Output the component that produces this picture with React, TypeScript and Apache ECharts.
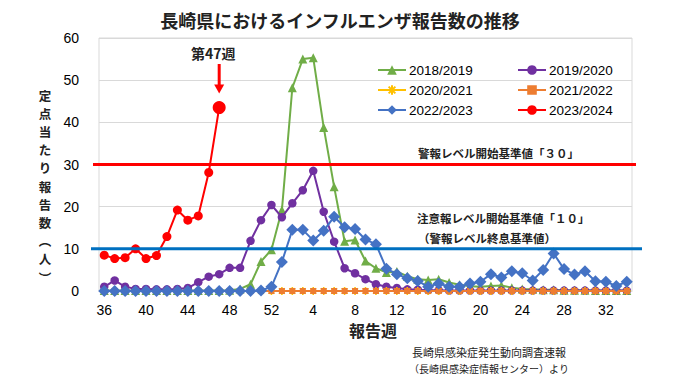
import React, { useEffect, useRef } from 'react';
import * as echarts from 'echarts';

// Report weeks (week 36 of one year to week 34 of the next)
const weeks = ['36','37','38','39','40','41','42','43','44','45','46','47','48','49','50','51','52',
  '1','2','3','4','5','6','7','8','9','10','11','12','13','14','15','16','17','18','19','20',
  '21','22','23','24','25','26','27','28','29','30','31','32','33','34'];

const seriesNames = ['2018/2019', '2019/2020', '2020/2021', '2021/2022', '2022/2023', '2023/2024'];

const s2018 = [0.1,0.1,0.1,0.1,0.1,0.1,0.1,0.1,0.1,0.1,0.1,0.1,0.2,0.5,1.6,7.0,9.8,
  19.2,48.2,55.0,55.3,38.8,24.7,11.8,12.1,7.1,5.4,4.4,4.6,3.5,2.8,2.6,2.8,2.0,1.5,1.1,1.0,
  1.2,1.3,0.8,0.5,0.4,0.3,0.3,0.2,0.2,0.2,0.1,0.1,0.1,0.1];
const s2019 = [1.0,2.5,1.0,0.5,0.5,0.4,0.4,0.5,0.7,2.1,3.4,4.0,5.5,5.5,11.9,16.8,20.4,
  17.5,20.8,23.9,28.5,18.8,11.7,5.4,4.2,2.8,1.6,1.0,0.7,0.4,0.3,0.2,0.2,0.1,0.1,0.1,0.1,
  0.1,0.1,0.1,0.1,0.1,0.1,0.1,0.1,0.1,0.1,0.1,0.1,0.1,0.1];
const s2020 = [0,0,0,0,0,0,0,0,0,0,0,0,0,0,0,0,0,
  0,0,0,0,0,0,0,0,0,0,0,0,0,0,0,0,0,0,0,0,
  0,0,0,0,0,0,0,0,0,0,0,0,0,0];
const s2021 = [0,0,0,0,0,0,0,0,0,0,0,0,0,0,0,0,0,
  0,0,0,0,0,0,0,0,0,0,0,0,0,0,0,0,0,0,0,0,
  0,0,0,0,0,0,0,0,0,0,0,0,0,0];
const s2022 = [0,0,0,0,0,0,0,0,0,0,0,0,0,0,0,0.1,1.0,
  6.9,14.5,14.5,12.0,14.3,17.6,15.1,14.7,12.2,11.1,5.3,4.0,3.0,2.4,1.0,1.8,1.0,1.0,1.8,2.2,
  4.0,3.2,4.7,4.2,2.5,5.0,8.9,5.2,3.9,4.7,2.3,2.2,1.2,2.2];
const s2023 = [8.5,7.7,7.9,10.0,7.7,8.4,12.9,19.2,16.8,17.8,28.1,43.5];

const alertLevel = 30;
const warnLevel = 10;
const highlightWeekIndex = 11; // week 47

const NUM_FONT = '"Liberation Sans Narrow", "Liberation Sans", Arial, sans-serif';
const JP_FONT = '"Noto Sans CJK JP", "Noto Sans", sans-serif';

const asterisk = 'path://M5,0L5,10M0,5L10,5M1.5,1.5L8.5,8.5M8.5,1.5L1.5,8.5';

export default function App() {
  const ref = useRef<HTMLDivElement>(null);

  useEffect(() => {
    if (!ref.current) return;
    const chart = echarts.init(ref.current, null, { renderer: 'svg' });

    const mk = (name: string, data: any[], color: string, symbol: string, size: any, z: number) => ({
      name,
      type: 'line',
      data,
      symbol,
      symbolSize: size,
      showSymbol: true,
      showAllSymbol: true,
      clip: false,
      z,
      lineStyle: { color, width: 2 },
      itemStyle: { color, borderColor: color, borderWidth: symbol === asterisk ? 1.6 : 0 },
      emphasis: { disabled: true },
    });

    const redData = s2023.map((v, i) => (i === highlightWeekIndex ? { value: v, symbolSize: 13 } : v));

    const legendCommon = {
      orient: 'vertical',
      itemWidth: 28,
      itemHeight: 12,
      itemGap: 6,
      top: 58,
      textStyle: { fontFamily: NUM_FONT, fontSize: 13.5, color: '#000', padding: [0, 0, 0, -2] },
    };

    chart.setOption({
      animation: false,
      title: {
        text: '長崎県におけるインフルエンザ報告数の推移',
        left: 'center',
        top: 6,
        textStyle: { fontFamily: JP_FONT, fontSize: 18, fontWeight: 'bold', color: '#222' },
      },
      legend: [
        { ...legendCommon, left: 372, data: [seriesNames[0], seriesNames[2], seriesNames[4]] },
        { ...legendCommon, left: 512, data: [seriesNames[1], seriesNames[3], seriesNames[5]] },
      ],
      grid: {
        left: 99, right: 48, top: 38, bottom: 91,
        show: true, borderColor: '#d9d9d9', borderWidth: 1,
      },
      xAxis: {
        type: 'category',
        data: weeks,
        boundaryGap: true,
        axisLine: { lineStyle: { color: '#d9d9d9' } },
        axisTick: { show: false },
        axisLabel: { interval: 3, margin: 12, fontFamily: NUM_FONT, fontSize: 14, color: '#000' },
      },
      yAxis: {
        type: 'value',
        min: 0, max: 60, interval: 10,
        axisLine: { show: false },
        axisTick: { show: false },
        splitLine: { lineStyle: { color: '#d9d9d9' } },
        axisLabel: { margin: 20, fontFamily: NUM_FONT, fontSize: 14, color: '#000' },
      },
      series: [
        mk(seriesNames[0], s2018, '#70AD47', 'triangle', 9, 2),
        mk(seriesNames[1], s2019, '#7030A0', 'circle', 8.5, 3),
        mk(seriesNames[2], s2020, '#FFC000', asterisk, 8, 4),
        mk(seriesNames[3], s2021, '#ED7D31', 'rect', 6, 5),
        mk(seriesNames[4], s2022, '#4472C4', 'diamond', 12, 6),
        mk(seriesNames[5], redData, '#FF0000', 'circle', 9, 7),
      ],
    });

    const yAlert = chart.convertToPixel({ gridIndex: 0 }, [0, alertLevel])[1];
    const yWarn = chart.convertToPixel({ gridIndex: 0 }, [0, warnLevel])[1];
    const pt = chart.convertToPixel({ gridIndex: 0 }, [highlightWeekIndex, s2023[highlightWeekIndex]]);
    const ax = pt[0];
    const tipY = pt[1] - 14;

    const yNameChars = ['定', '点', '当', 'た', 'り', '報', '告', '数', '︵', '人', '︶'];
    const yNameTexts = yNameChars.map((ch, i) => ({
      type: 'text', z: 100, x: 45, y: 95 + i * 18.2,
      style: { text: ch, fontFamily: JP_FONT, fontSize: 12.5, lineHeight: 13, fontWeight: 'bold', fill: '#222', align: 'center', verticalAlign: 'middle' },
    }));

    chart.setOption({
      graphic: [
        { type: 'line', z: 100, shape: { x1: 93, y1: yAlert, x2: 636, y2: yAlert }, style: { stroke: '#FF0000', lineWidth: 3 } },
        { type: 'line', z: 100, shape: { x1: 91, y1: yWarn, x2: 642, y2: yWarn }, style: { stroke: '#0070C0', lineWidth: 3 } },
        { type: 'line', z: 100, shape: { x1: ax, y1: 64, x2: ax, y2: tipY - 8 }, style: { stroke: '#FF0000', lineWidth: 3 } },
        { type: 'polygon', z: 100, shape: { points: [[ax - 5, tipY - 9], [ax + 5, tipY - 9], [ax, tipY]] }, style: { fill: '#FF0000' } },
        { type: 'text', z: 100, x: ax - 6, y: 53, style: { text: '第47週', fontFamily: JP_FONT, fontSize: 14, fontWeight: 'bold', fill: '#222', align: 'center', verticalAlign: 'middle' } },
        { type: 'text', z: 100, x: 418, y: 153, style: { text: '警報レベル開始基準値「３０」', fontFamily: JP_FONT, fontSize: 11.5, fontWeight: 'bold', fill: '#222', align: 'left', verticalAlign: 'middle' } },
        { type: 'text', z: 100, x: 417, y: 218, style: { text: '注意報レベル開始基準値「１０」', fontFamily: JP_FONT, fontSize: 11.5, fontWeight: 'bold', fill: '#222', align: 'left', verticalAlign: 'middle' } },
        { type: 'text', z: 100, x: 418, y: 238, style: { text: '（警報レベル終息基準値）', fontFamily: JP_FONT, fontSize: 11.5, fontWeight: 'bold', fill: '#222', align: 'left', verticalAlign: 'middle' } },
        ...yNameTexts,
        { type: 'text', z: 100, x: 373, y: 330, style: { text: '報告週', fontFamily: JP_FONT, fontSize: 16, fontWeight: 'bold', fill: '#222', align: 'center', verticalAlign: 'middle' } },
        { type: 'text', z: 100, x: 489, y: 352, style: { text: '長崎県感染症発生動向調査速報', fontFamily: JP_FONT, fontSize: 11, fill: '#222', align: 'center', verticalAlign: 'middle' } },
        { type: 'text', z: 100, x: 489, y: 368, style: { text: '（長崎県感染症情報センター）より', fontFamily: JP_FONT, fontSize: 10, fill: '#222', align: 'center', verticalAlign: 'middle' } },
      ],
    });

    return () => chart.dispose();
  }, []);

  return <div ref={ref} style={{ position: 'fixed', left: 0, top: 0, width: 680, height: 382, background: '#fff' }} />;
}
